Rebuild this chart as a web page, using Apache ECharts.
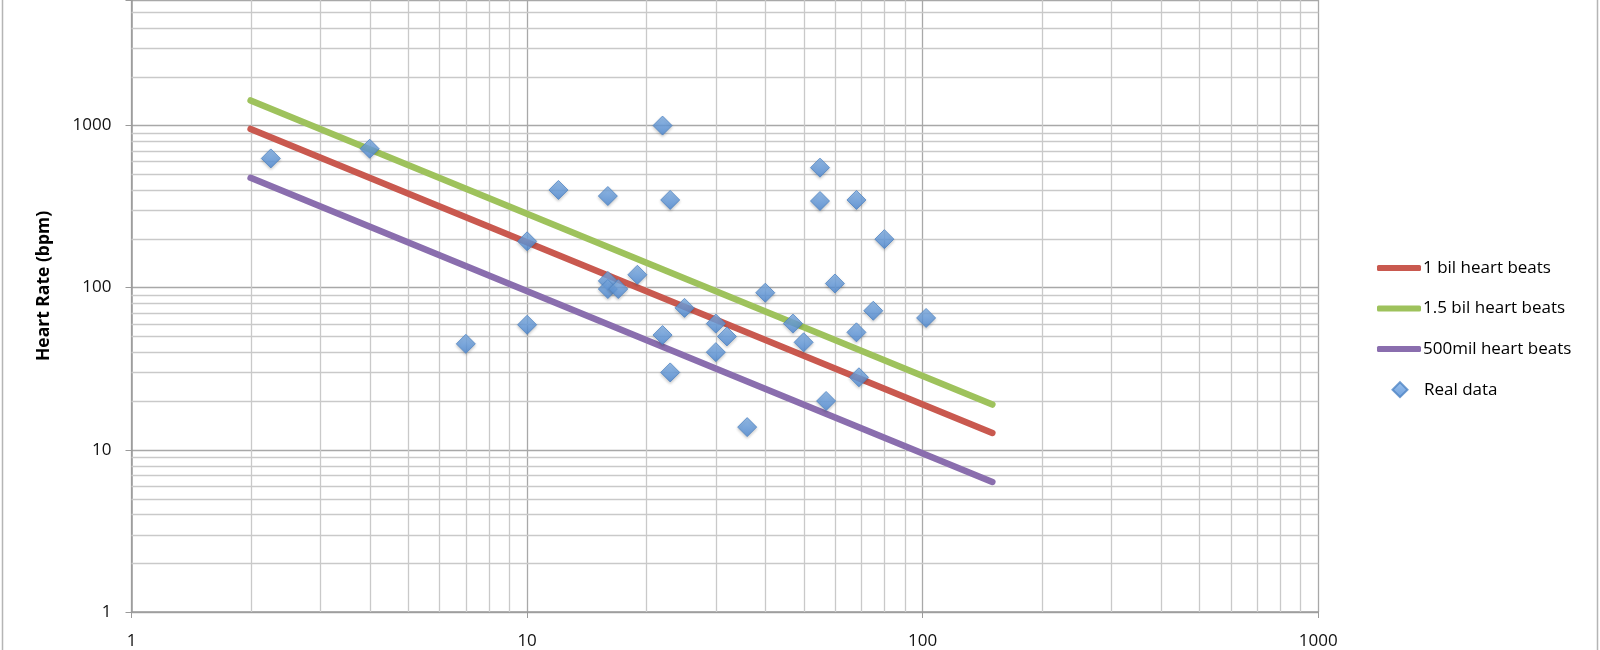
<!DOCTYPE html>
<html>
<head>
<meta charset="utf-8">
<script src="https://cdn.jsdelivr.net/npm/echarts@6/dist/echarts.min.js"></script>
<style>
html,body{margin:0;padding:0;background:#fff;overflow:hidden;}
#chart{width:1600px;height:650px;}
</style>
</head>
<body>
<div id="chart"></div>
<script>
// ---- data ----
const xMin = 1, xMax = 1000;
const yMin = 1, yMax = 5934;          // plot is cut at the top of the image
const xMajorTicks = [1, 10, 100, 1000];
const yMajorTicks = [1, 10, 100, 1000];
const seriesNames = ['1 bil heart beats', '1.5 bil heart beats', '500mil heart beats', 'Real data'];
const oneBil = [[2, 951], [150, 12.7]];
const onePointFiveBil = [[2, 1426], [150, 19.0]];
const fiveHundredMil = [[2, 475], [150, 6.34]];
const realData = [
  [2.25, 626], [4, 718], [12, 400], [10, 193], [10, 59], [7, 45], [22, 998],
  [16, 367], [23, 347], [55, 549], [55, 342], [68, 347], [80, 199], [16, 110],
  [16, 98], [17, 98], [19, 120], [40, 93], [60, 106], [25, 75], [30, 60],
  [32, 50], [22, 51], [30, 40], [23, 30], [47, 60], [50, 46], [75, 72],
  [68, 53], [69, 28], [57, 20], [36, 13.8], [102, 65]
];
// minor gridline positions (2..9 in each decade)
const minorMultipliers = [2, 3, 4, 5, 6, 7, 8, 9];
const xMinor = [];
for (let d = 1; d < xMax; d *= 10) minorMultipliers.forEach(m => xMinor.push(m * d));
const yMinor = [];
for (let d = 1; d < yMax; d *= 10) minorMultipliers.forEach(m => { if (m * d < yMax) yMinor.push(m * d); });

const FONT = 'Open Sans';
const chart = echarts.init(document.getElementById('chart'), null, {renderer: 'canvas'});

const minorColor = '#c9c9c9';
function vGrid(params, api) {
  const cs = params.coordSys;
  const p = api.coord([api.value(0), yMin]);
  const x = Math.round(p[0]) + 0.5;
  return {type: 'line', silent: true,
    shape: {x1: x, y1: cs.y, x2: x, y2: cs.y + cs.height},
    style: {stroke: minorColor, lineWidth: 1.3}};
}
function hGrid(params, api) {
  const cs = params.coordSys;
  const p = api.coord([xMin, api.value(1)]);
  const y = Math.round(p[1]) + 0.5;
  return {type: 'line', silent: true,
    shape: {x1: cs.x, y1: y, x2: cs.x + cs.width, y2: y},
    style: {stroke: minorColor, lineWidth: 1.3}};
}
const isDecade = v => Math.abs(Math.log10(v) - Math.round(Math.log10(v))) < 1e-6;

const lineColors = ['#c9594f', '#9ec25c', '#8a6eae'];
const diamondFill = new echarts.graphic.LinearGradient(0, 0, 0, 1, [
  {offset: 0, color: '#84b4ea'}, {offset: 1, color: '#4a87d3'}
]);

const option = {
  animation: false,
  backgroundColor: '#ffffff',
  grid: {left: 131.5, right: 281.7, top: 0, bottom: 35.7, containLabel: false},
  xAxis: {
    type: 'log', logBase: 10, min: xMin, max: xMax,
    axisLine: {show: true, lineStyle: {color: '#9a9a9a', width: 1.5}},
    axisTick: {show: true, length: 6, lineStyle: {color: '#9a9a9a', width: 1}},
    axisLabel: {fontFamily: FONT, fontSize: 17, color: '#111', margin: 21,
      formatter: v => String(Math.round(v))},
    splitLine: {show: true, lineStyle: {color: '#a8a8a8', width: 1.3}}
  },
  yAxis: {
    type: 'log', logBase: 10, min: yMin, max: yMax,
    axisLine: {show: true, lineStyle: {color: '#9a9a9a', width: 1.5}},
    axisTick: {show: true, length: 6, lineStyle: {color: '#9a9a9a', width: 1}},
    axisLabel: {fontFamily: FONT, fontSize: 17, color: '#111', margin: 20, padding: [6, 0, 0, 0],
      formatter: v => isDecade(v) ? String(Math.round(v)) : ''},
    splitLine: {show: true, lineStyle: {color: '#a8a8a8', width: 1.3}}
  },
  legend: [
    {
      orient: 'vertical', left: 1372, top: 253,
      data: seriesNames.slice(0, 3),
      icon: 'roundRect', itemWidth: 44, itemHeight: 6, itemGap: 20.5,
      textStyle: {fontFamily: FONT, fontSize: 17, color: '#000', lineHeight: 20, padding: [0, 0, 0, -3]}
    },
    {
      orient: 'vertical', left: 1386.5, top: 374.7,
      data: [seriesNames[3]],
      icon: 'diamond', itemWidth: 15, itemHeight: 15,
      textStyle: {fontFamily: FONT, fontSize: 17, color: '#000', lineHeight: 20, padding: [0, 0, 0, 11.5]}
    }
  ],
  graphic: [
    {type: 'rect', silent: true, z: -10,
      shape: {x: 2.5, y: -10, width: 1595, height: 700},
      style: {fill: 'none', stroke: '#b5b5b5', lineWidth: 1.5}},
    {type: 'text', silent: true, x: 44, y: 286, rotation: Math.PI / 2,
      style: {text: 'Heart Rate (bpm)', fontFamily: FONT, fontSize: 17.5, fontWeight: 'bold',
        fill: '#000', align: 'center', verticalAlign: 'middle'}}
  ],
  series: [
    {type: 'custom', name: 'xgrid', renderItem: vGrid, silent: true, z: 1,
      data: xMinor.map(v => [v, yMin]), clip: false},
    {type: 'custom', name: 'ygrid', renderItem: hGrid, silent: true, z: 1,
      data: yMinor.map(v => [xMin, v]), clip: false},
    {type: 'line', name: seriesNames[0], data: oneBil, symbol: 'none', z: 3,
      lineStyle: {color: lineColors[0], width: 6.5, cap: 'round'}, itemStyle: {color: lineColors[0]}},
    {type: 'line', name: seriesNames[1], data: onePointFiveBil, symbol: 'none', z: 3,
      lineStyle: {color: lineColors[1], width: 6.5, cap: 'round'}, itemStyle: {color: lineColors[1]}},
    {type: 'line', name: seriesNames[2], data: fiveHundredMil, symbol: 'none', z: 3,
      lineStyle: {color: lineColors[2], width: 6.5, cap: 'round'}, itemStyle: {color: lineColors[2]}},
    {type: 'scatter', name: seriesNames[3], data: realData, symbol: 'diamond', symbolSize: 19, z: 4,
      itemStyle: {color: diamondFill, borderColor: '#4f84c4', borderWidth: 1,
        shadowColor: 'rgba(0,0,0,0.25)', shadowBlur: 3, shadowOffsetY: 1.5}}
  ]
};
chart.setOption(option);
</script>
</body>
</html>
